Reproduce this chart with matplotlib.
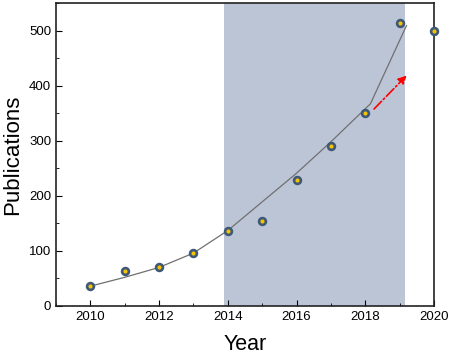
import matplotlib.pyplot as plt
from matplotlib.ticker import MultipleLocator

plt.rcParams["font.family"] = ["Liberation Sans", "DejaVu Sans"]

# publication counts per year
years = [2010, 2011, 2012, 2013, 2014, 2015, 2016, 2017, 2018, 2019, 2020]
counts = [36, 63, 70, 96, 137, 155, 229, 291, 350, 513, 500]

# trend line drawn through the data
trend_x = [2010, 2011, 2012, 2013, 2014, 2015, 2016, 2017, 2018.15, 2019.2]
trend_y = [36, 52, 70, 96, 137, 189, 241, 298, 367, 509]

# shaded period and projection arrow
span = (2013.9, 2019.17)
arrow_start = (2018.2, 354)
arrow_end = (2019.26, 422)


def main():
    fig = plt.figure(figsize=(4.5, 3.58), dpi=100)
    ax = fig.add_axes([0.1244, 0.1453, 0.84, 0.8463])

    ax.axvspan(*span, color="#bcc5d6", lw=0, zorder=0)
    ax.plot(trend_x, trend_y, color="#707070", lw=0.9, zorder=2)
    ax.plot(years, counts, "o", ms=4.9, mfc="#f5c400", mec="#3f5878",
            mew=1.9, clip_on=False, zorder=3)
    ax.annotate("", xy=arrow_end, xytext=arrow_start,
                arrowprops=dict(arrowstyle="-|>", color="red", lw=1.2,
                                ls="-.", mutation_scale=12))

    ax.set_xlim(2009, 2020)
    ax.set_ylim(0, 550)
    ax.xaxis.set_major_locator(MultipleLocator(2))
    ax.xaxis.set_minor_locator(MultipleLocator(1))
    ax.yaxis.set_major_locator(MultipleLocator(100))
    ax.yaxis.set_minor_locator(MultipleLocator(50))
    ax.tick_params(direction="in", which="major", length=4, labelsize=9.5)
    ax.tick_params(direction="in", which="minor", length=2.5)
    for s in ax.spines.values():
        s.set_linewidth(1.2)
        s.set_color("#222222")

    ax.set_xlabel("Year", fontsize=15.5, labelpad=8)
    ax.set_ylabel("Publications", fontsize=16, labelpad=4)

    fig.savefig("out.png", dpi=100)


if __name__ == "__main__":
    main()
